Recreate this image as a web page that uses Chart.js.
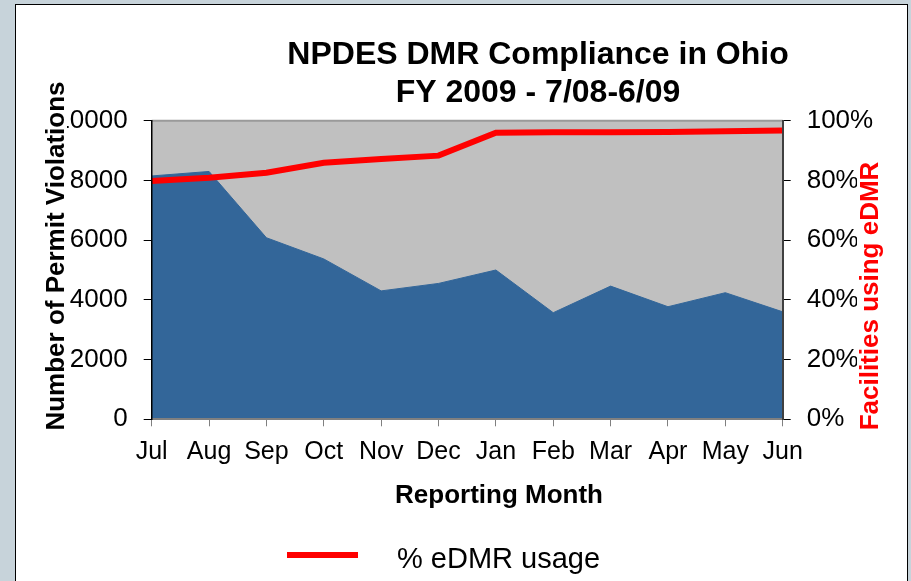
<!DOCTYPE html>
<html>
<head>
<meta charset="utf-8">
<title>NPDES DMR Compliance in Ohio</title>
<script src="https://cdn.jsdelivr.net/npm/chart.js@4.4.1/dist/chart.umd.min.js"></script>
<style>
  body { margin: 0; background: #c7d3da; width: 911px; height: 581px; overflow: hidden; position: relative; }
  #panel { position: absolute; left: 15px; top: 4px; width: 891px; height: 600px; background: #fff; border: 1px solid #000; }
  #chart { position: absolute; left: 0; top: 0; }
</style>
</head>
<body>
<div id="panel"></div>
<canvas id="chart" width="911" height="581"></canvas>
<script>
// Dados do gráfico
const months = ['Jul', 'Aug', 'Sep', 'Oct', 'Nov', 'Dec', 'Jan', 'Feb', 'Mar', 'Apr', 'May', 'Jun'];
const violations = [8150, 8300, 6080, 5370, 4300, 4550, 5000, 3570, 4460, 3770, 4240, 3600];
const edmrUsage = [79.8, 80.9, 82.6, 85.9, 87.2, 88.3, 96.0, 96.1, 96.1, 96.2, 96.5, 96.7];
const leftTicks = [0, 2000, 4000, 6000, 8000, 10000];
const rightTicks = [0, 20, 40, 60, 80, 100];

const FONT = "'Liberation Sans', Arial, sans-serif";

// Fundo cinza, títulos e legenda
const decorations = {
    id: 'decorations',
    beforeDraw(chart) {
        const { ctx, chartArea: a } = chart;
        ctx.save();
        ctx.fillStyle = '#c0c0c0';
        ctx.fillRect(a.left, a.top, a.right - a.left, a.bottom - a.top);
        ctx.restore();
    },
    afterDatasetsDraw(chart) {
        const { ctx, chartArea: a } = chart;
        ctx.save();
        ctx.strokeStyle = '#9a9a9a';
        ctx.lineWidth = 2;
        ctx.beginPath();
        ctx.moveTo(a.left, a.top);
        ctx.lineTo(a.right, a.top);
        ctx.stroke();
        ctx.restore();
    },
    afterDraw(chart) {
        const { ctx } = chart;
        ctx.save();

        // título
        ctx.fillStyle = '#000';
        ctx.textAlign = 'center';
        ctx.textBaseline = 'alphabetic';
        ctx.font = 'bold 32px ' + FONT;
        ctx.fillText('NPDES DMR Compliance in Ohio', 538, 64);
        ctx.fillText('FY 2009 - 7/08-6/09', 538, 102);

        // título do eixo X
        ctx.font = 'bold 26px ' + FONT;
        ctx.fillText('Reporting Month', 499, 503);

        // títulos verticais (com fundo branco)
        const vTitle = (text, x, y, color, after) => {
            ctx.save();
            ctx.font = 'bold 26px ' + FONT;
            const w = ctx.measureText(text).width;
            ctx.translate(x, y);
            ctx.rotate(-Math.PI / 2);
            ctx.fillStyle = '#fff';
            ctx.fillRect(-w / 2, -21, w, 21 + after);
            ctx.fillStyle = color;
            ctx.textAlign = 'center';
            ctx.textBaseline = 'alphabetic';
            ctx.fillText(text, 0, 0);
            ctx.restore();
        };
        vTitle('Number of Permit Violations', 64, 256, '#000', 3);
        vTitle('Facilities using eDMR', 878, 296, '#ff0000', 6);

        // legenda
        ctx.strokeStyle = '#ff0000';
        ctx.lineWidth = 6;
        ctx.beginPath();
        ctx.moveTo(287, 555);
        ctx.lineTo(358, 555);
        ctx.stroke();
        ctx.fillStyle = '#000';
        ctx.textAlign = 'left';
        ctx.font = '29px ' + FONT;
        ctx.fillText('% eDMR usage', 397, 568);

        ctx.restore();
    }
};

new Chart(document.getElementById('chart'), {
    type: 'line',
    data: {
        labels: months,
        datasets: [
            {
                label: '% eDMR usage',
                data: edmrUsage,
                yAxisID: 'y2',
                borderColor: '#ff0000',
                borderWidth: 6,
                borderCapStyle: 'butt',
                pointRadius: 0,
                fill: false,
                tension: 0,
                order: 0
            },
            {
                label: 'Permit Violations',
                data: violations,
                yAxisID: 'y',
                backgroundColor: '#336699',
                borderColor: '#336699',
                borderWidth: 1,
                pointRadius: 0,
                fill: 'origin',
                tension: 0,
                order: 1
            }
        ]
    },
    options: {
        responsive: false,
        animation: false,
        layout: { padding: { top: 120.7, left: 0, right: 0, bottom: 0 } },
        plugins: {
            legend: { display: false },
            title: { display: false },
            tooltip: { enabled: false }
        },
        scales: {
            x: {
                offset: false,
                grid: { drawOnChartArea: false, drawTicks: true, tickLength: 7, color: '#808080' },
                border: { display: true, color: '#808080', width: 2, z: 1 },
                ticks: {
                    color: '#000',
                    font: { family: FONT, size: 25 },
                    maxRotation: 0,
                    autoSkip: false,
                    padding: 11
                },
                afterFit: s => { s.height = 581 - 419.3; }
            },
            y: {
                position: 'left',
                min: 0,
                max: 10000,
                afterBuildTicks: s => { s.ticks = leftTicks.map(v => ({ value: v })); },
                grid: { drawOnChartArea: false, drawTicks: true, tickLength: 8, color: '#000' },
                border: { display: true, color: '#000', width: 1.5, z: 1 },
                ticks: {
                    color: '#000',
                    font: { family: FONT, size: 26 },
                    padding: 16,
                    callback: v => String(v)
                },
                afterFit: s => { s.width = 151.7; }
            },
            y2: {
                position: 'right',
                min: 0,
                max: 100,
                afterBuildTicks: s => { s.ticks = rightTicks.map(v => ({ value: v })); },
                grid: { drawOnChartArea: false, drawTicks: true, tickLength: 8, color: '#000' },
                border: { display: true, color: '#404040', width: 2, z: 1 },
                ticks: {
                    color: '#000',
                    font: { family: FONT, size: 26 },
                    padding: 16,
                    callback: v => v + '%'
                },
                afterFit: s => { s.width = 911 - 782.7; }
            }
        }
    },
    plugins: [decorations]
});
</script>
</body>
</html>
